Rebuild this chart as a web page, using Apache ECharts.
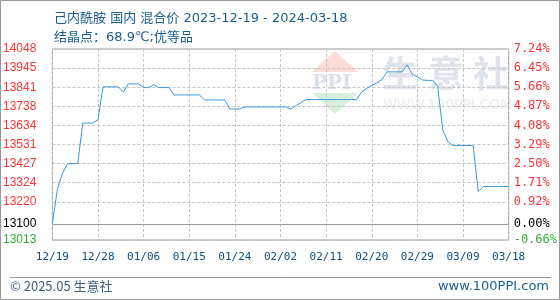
<!DOCTYPE html>
<html><head><meta charset="utf-8">
<script src="https://cdn.jsdelivr.net/npm/echarts@6/dist/echarts.min.js"></script>
<style>html,body{margin:0;padding:0;background:#fff}#c{width:560px;height:300px}</style>
</head><body><div id="c"></div>
<script>
// ---- data ----
const titleText = '己内酰胺 国内 混合价 2023-12-19 - 2024-03-18';
const subTitleText = '结晶点：68.9℃;优等品';
const startDate = '2023-12-19';
const prices = [
  13100, 13290, 13375, 13427, 13427, 13427, 13647, 13647, 13647, 13665,
  13843, 13843, 13843, 13843, 13815, 13859, 13859, 13859, 13839, 13839,
  13855, 13839, 13839, 13839, 13799, 13799, 13799, 13799, 13799, 13799,
  13772, 13772, 13772, 13772, 13772, 13723, 13723, 13723, 13734, 13734,
  13734, 13734, 13734, 13734, 13734, 13734, 13734, 13723, 13740, 13757,
  13774, 13774, 13774, 13774, 13774, 13774, 13774, 13774, 13774, 13774,
  13774, 13815, 13835, 13850, 13865, 13882, 13924, 13924, 13924, 13924,
  13962, 13910, 13897, 13880, 13878, 13878, 13846, 13610, 13547, 13525,
  13525, 13525, 13525, 13525, 13275, 13303, 13303, 13303, 13303, 13303,
  13303
];
const basePrice = 13100;
const yMin = 13013, yMax = 14048;
const leftTicks = [13013, 13100, 13220, 13324, 13427, 13531, 13634, 13738, 13841, 13945, 14048];
const leftTickLabels = ['13013', '13100', '13220', '13324', '13427', '13531', '13634', '13738', '13841', '13945', '14048'];
const rightTickLabels = ['-0.66%', '0.00%', '0.92%', '1.71%', '2.50%', '3.29%', '4.08%', '4.87%', '5.66%', '6.45%', '7.24%'];
const footerLeft = '© 2025.05 生意社';
const footerRight = 'www.100PPI.com';

// categories (dates)
const dates = [];
{
  const d0 = new Date(startDate + 'T00:00:00Z');
  for (let i = 0; i < prices.length; i++) {
    const d = new Date(d0.getTime() + i * 86400000);
    const mm = String(d.getUTCMonth() + 1).padStart(2, '0');
    const dd = String(d.getUTCDate()).padStart(2, '0');
    dates.push(mm + '/' + dd);
  }
}

function labelColor(v) {
  if (v > basePrice) return '#ff3333';
  if (v < basePrice) return '#33aa33';
  return '#000000';
}

const chart = echarts.init(document.getElementById('c'), null, {renderer: 'canvas'});
const FONT = '"Noto Sans CJK SC", "Noto Sans", sans-serif';
const TFONT = '"DejaVu Sans", "Noto Sans CJK SC", sans-serif';
const gridLine = {color: '#c4c4c4', type: [3, 2], width: 1};
const wm = '#dfe3ec';
chart.setOption({
  animation: false,
  backgroundColor: '#fff',
  title: [
    {text: titleText, left: 49, top: 7, textStyle: {fontSize: 13, fontWeight: 'normal', color: '#1a5e8e', fontFamily: TFONT}},
    {text: subTitleText, left: 49, top: 26, textStyle: {fontSize: 13, fontWeight: 'normal', color: '#1a5e8e', fontFamily: TFONT}}
  ],
  grid: {left: 50, right: 50, top: 49, bottom: 60, show: true, borderColor: '#999', borderWidth: 1},
  xAxis: {
    type: 'category', data: dates, boundaryGap: false,
    axisLine: {show: false}, axisTick: {show: false, interval: 8},
    axisLabel: {interval: 8, color: '#0f4f80', fontSize: 11, margin: 12, fontFamily: '"DejaVu Sans Mono", monospace'},
    splitLine: {show: true, interval: 8, lineStyle: gridLine}
  },
  yAxis: [
    {
      type: 'value', min: yMin, max: yMax, position: 'left',
      axisLine: {show: false},
      axisTick: {show: false, customValues: leftTicks},
      axisLabel: {customValues: leftTicks, margin: 16, fontSize: 12, fontFamily: '"Liberation Sans", sans-serif',
        formatter: v => leftTickLabels[leftTicks.indexOf(v)],
        color: v => labelColor(v)},
      splitLine: {show: true, lineStyle: gridLine}
    },
    {
      type: 'value', min: yMin, max: yMax, position: 'right',
      axisLine: {show: false},
      axisTick: {show: false, customValues: leftTicks},
      axisLabel: {customValues: leftTicks, margin: 5, fontSize: 12, fontFamily: '"DejaVu Sans Mono", monospace',
        formatter: v => rightTickLabels[leftTicks.indexOf(v)],
        color: v => labelColor(v)},
      splitLine: {show: false}
    }
  ],
  graphic: [
    {type: 'rect', shape: {x: 0.5, y: 0.5, width: 559, height: 299}, style: {fill: 'none', stroke: '#999', lineWidth: 1}, z: 100},
    {type: 'line', shape: {x1: 10, y1: 277.5, x2: 551, y2: 277.5}, style: {stroke: '#999', lineWidth: 1}},
    {type: 'text', left: 10, top: 280, style: {text: footerLeft, fontSize: 13, fill: '#3d5f80', fontFamily: FONT}},
    {type: 'text', right: 11, top: 280, style: {text: footerRight, fontSize: 13, fill: '#1a5e8e', fontFamily: '"DejaVu Sans", sans-serif'}},
    // watermark
    {type: 'polygon', shape: {points: [[335, 51], [312, 72], [358, 72]]}, style: {fill: '#fbdcd7'}, z: -5},
    {type: 'polygon', shape: {points: [[312, 93], [358, 93], [335, 114]]}, style: {fill: '#d9efdd'}, z: -5},
    {type: 'text', left: 312, top: 74, style: {text: 'PPI', fontSize: 20, fontWeight: 'bold', fill: '#dae0ec', fontFamily: '"DejaVu Serif", serif'}, z: -5},
    {type: 'text', left: 382, top: 55, style: {text: '生', fontSize: 36, fontWeight: 'bold', fill: wm, fontFamily: FONT}, z: -5},
    {type: 'text', left: 428, top: 55, style: {text: '意', fontSize: 36, fontWeight: 'bold', fill: wm, fontFamily: FONT}, z: -5},
    {type: 'text', left: 473, top: 55, style: {text: '社', fontSize: 36, fontWeight: 'bold', fill: wm, fontFamily: FONT}, z: -5},
    {type: 'text', left: 383, top: 98, style: {text: 'WWW.100PPI.COM', fontSize: 14, fill: '#ececec', fontFamily: '"DejaVu Sans", sans-serif'}, z: -5}
  ],
  series: [{
    type: 'line', data: prices, yAxisIndex: 0,
    showSymbol: false, symbol: 'none',
    lineStyle: {color: '#3a9ad9', width: 1},
    markLine: {silent: true, symbol: 'none', label: {show: false},
      lineStyle: {color: '#999', type: 'solid', width: 1},
      data: [{yAxis: basePrice}]}
  }]
});
</script></body></html>
